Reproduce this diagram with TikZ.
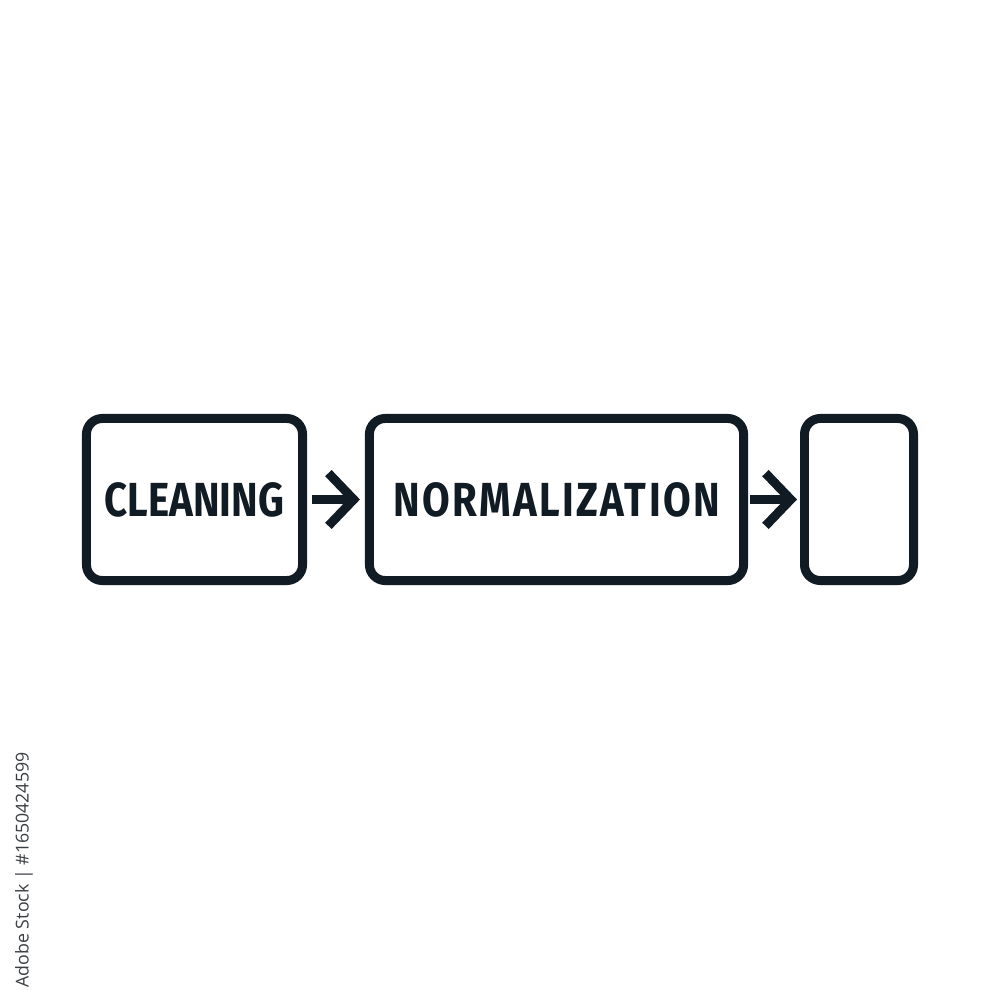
\documentclass[tikz,border=0pt]{standalone}
\usepackage{fontspec}
\setmainfont{Fira Sans}
\newfontfamily\boxfont[FakeStretch=0.84]{Fira Sans}
\newfontfamily\boxfontwide[FakeStretch=0.84,LetterSpace=5]{Fira Sans}
\newfontfamily\wmfont{Open Sans}
\usetikzlibrary{arrows.meta}
\definecolor{ink}{HTML}{111B24}
\definecolor{wm}{HTML}{3A3F44}
\tikzset{
  stage/.style={draw=ink, line width=2.55pt, rounded corners=4.5pt, fill=white,
    inner sep=0pt, font=\boxfont\fontsize{13.6}{14}\selectfont\bfseries, text=ink},
  flow/.style={draw=ink, line width=2.55pt, -{Straight Barb[length=7.2pt,width=15pt]}}
}
\begin{document}
\begin{tikzpicture}[x=0.01cm,y=-0.01cm]
\useasboundingbox[fill=white] (0,0) rectangle (1000,1000);
\node[stage, minimum width=216*0.2845pt, minimum height=162*0.2845pt] (clean) at (194.5,499.5) {CLEANING};
\node[stage, minimum width=374*0.2845pt, minimum height=162*0.2845pt,
  font=\boxfontwide\fontsize{13.6}{14}\selectfont\bfseries] (norm) at (556.5,499.5) {NORMALIZATION};
\node[stage, minimum width=109*0.2845pt, minimum height=162*0.2845pt] (out) at (859,499.5) {};
\draw[flow, shorten <=5*0.2845pt, shorten >=5*0.2845pt] (clean.east) -- (norm.west);
\draw[flow, shorten <=2*0.2845pt, shorten >=3*0.2845pt] (norm.east) -- (out.west);
\node[rotate=90, anchor=west, font=\wmfont\fontsize{5.05}{5.2}\selectfont, text=wm, inner sep=0pt] (wmark) at (24,988) {Adobe Stock | \#1650424599};
\end{tikzpicture}
\end{document}
